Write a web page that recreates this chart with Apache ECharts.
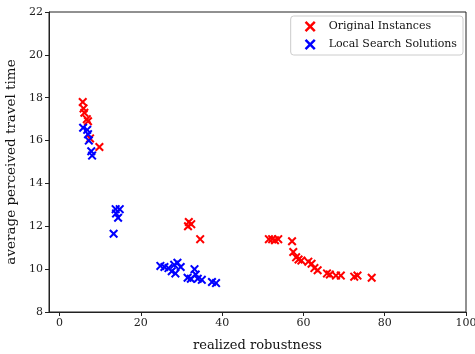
<!DOCTYPE html>
<html>
<head>
<meta charset="utf-8">
<script src="https://cdn.jsdelivr.net/npm/echarts@6/dist/echarts.min.js"></script>
<style>
  html, body { margin: 0; padding: 0; background: #fff; }
  #chart { width: 475px; height: 354px; }
</style>
</head>
<body>
<div id="chart"></div>
<script>
// Original instances: [realized robustness, average perceived travel time]
const originalX = [5.7, 5.9, 6.1, 6.7, 7.0, 7.5, 9.8,
  31.8, 32.4, 31.6, 34.6,
  51.5, 52.3, 53.0, 53.8, 57.2, 57.5, 58.2, 58.8, 59.5, 61.2, 62.0, 62.7, 63.5,
  65.8, 66.5, 68.0, 69.2, 72.5, 73.3, 76.8];
const originalY = [17.8, 17.5, 17.3, 17.0, 16.9, 16.1, 15.7,
  12.2, 12.1, 12.0, 11.4,
  11.4, 11.4, 11.35, 11.4, 11.3, 10.8, 10.55, 10.45, 10.4, 10.35, 10.25, 10.05, 9.95,
  9.8, 9.75, 9.7, 9.7, 9.65, 9.7, 9.6];

// Local search solutions
const localX = [5.8, 6.8, 7.0, 7.2, 7.8, 8.0,
  13.8, 14.8, 13.9, 14.4, 13.3,
  24.8, 25.8, 26.8, 27.6, 28.2, 29.0, 29.8, 28.5, 31.5, 32.3, 33.2, 33.5, 34.0, 35.0, 37.5, 38.5];
const localY = [16.6, 16.5, 16.3, 16.0, 15.5, 15.3,
  12.8, 12.8, 12.6, 12.4, 11.65,
  10.15, 10.1, 10.05, 9.9, 10.2, 10.3, 10.1, 9.8, 9.6, 9.55, 10.0, 9.75, 9.55, 9.5, 9.4, 9.35];

const xTicks = [0, 20, 40, 60, 80, 100];
const seriesNames = ['Original Instances', 'Local Search Solutions'];

const pair = (xs, ys) => xs.map((x, i) => [x, ys[i]]);

// filled "x" cross marker
const crossPath = 'path://M0,1.6 L1.6,0 L5,3.4 L8.4,0 L10,1.6 L6.6,5 L10,8.4 L8.4,10 L5,6.6 L1.6,10 L0,8.4 L3.4,5 Z';
const serif = '"DejaVu Serif", "Liberation Serif", serif';

const chart = echarts.init(document.getElementById('chart'));
chart.setOption({
  animation: false,
  textStyle: { fontFamily: serif },
  grid: {
    left: 49, right: 9, top: 12, bottom: 42,
    containLabel: false, outerBoundsMode: 'none',
    show: true, borderColor: '#222', borderWidth: 1, backgroundColor: 'transparent'
  },
  legend: {
    right: 12, top: 16,
    orient: 'vertical',
    itemWidth: 11, itemHeight: 11, itemGap: 7,
    padding: [5, 6, 5, 14],
    borderColor: '#ccc', borderWidth: 1, borderRadius: 3,
    backgroundColor: '#fff',
    textStyle: { fontFamily: serif, fontSize: 11, color: '#111', padding: [0, 0, 0, 8] },
    data: seriesNames.map(n => ({ name: n, icon: crossPath }))
  },
  xAxis: {
    type: 'value', min: -2.6, max: 100,
    name: 'realized robustness', nameLocation: 'middle', nameGap: 27,
    nameTextStyle: { fontFamily: serif, fontSize: 13, color: '#111' },
    axisLine: { show: true, onZero: false, lineStyle: { color: '#222' } },
    axisTick: { show: true, length: 4, lineStyle: { color: '#222' }, customValues: xTicks },
    axisLabel: { fontFamily: serif, fontSize: 11, color: '#222', margin: 6, customValues: xTicks },
    splitLine: { show: false }
  },
  yAxis: {
    type: 'value', min: 8, max: 22, interval: 2,
    name: 'average perceived travel time', nameLocation: 'middle', nameGap: 29,
    nameTextStyle: { fontFamily: serif, fontSize: 13.5, color: '#111' },
    axisLine: { show: true, onZero: false, lineStyle: { color: '#222' } },
    axisTick: { show: true, length: 4, lineStyle: { color: '#222' } },
    axisLabel: { fontFamily: serif, fontSize: 11, color: '#222', margin: 6 },
    splitLine: { show: false }
  },
  series: [
    {
      name: seriesNames[0], type: 'scatter',
      symbol: crossPath, symbolSize: 9,
      itemStyle: { color: '#ff0000', opacity: 1 },
      data: pair(originalX, originalY)
    },
    {
      name: seriesNames[1], type: 'scatter',
      symbol: crossPath, symbolSize: 9,
      itemStyle: { color: '#0000ff', opacity: 1 },
      data: pair(localX, localY)
    }
  ]
});
</script>
</body>
</html>
